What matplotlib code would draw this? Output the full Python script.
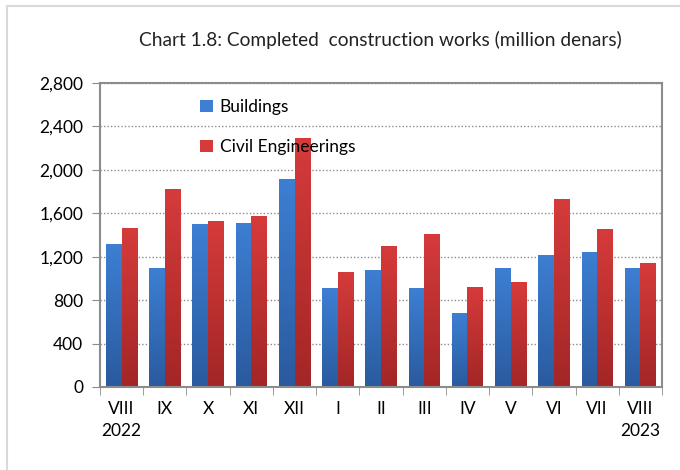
import numpy as np
import matplotlib
matplotlib.use('Agg')
import matplotlib.pyplot as plt
from matplotlib.patches import Rectangle
from matplotlib.colors import LinearSegmentedColormap

months = ['VIII\n2022', 'IX', 'X', 'XI', 'XII', 'I', 'II', 'III', 'IV', 'V', 'VI', 'VII', 'VIII\n2023']
buildings = [1313, 1095, 1498, 1513, 1913, 909, 1080, 909, 678, 1095, 1218, 1248, 1095]
civil = [1467, 1820, 1529, 1575, 2296, 1063, 1298, 1406, 924, 971, 1728, 1452, 1140]

plt.rcParams['font.family'] = ['Lato', 'DejaVu Sans']

fig = plt.figure(figsize=(6.8, 4.7), dpi=100)
ax = fig.add_axes([0.147, 0.1766, 0.8265, 0.6468])

# outer chart border
fig.patches.append(Rectangle((7 / 680, -0.1), 1.2, 1 - 6 / 470 + 0.1, transform=fig.transFigure,
                             fill=False, edgecolor='#d9d9d9', linewidth=1.5))

x = np.arange(len(months))
w = 0.36


def gradient_bars(xs, heights, c_top, c_bot, label):
    bars = ax.bar(xs, heights, w, color=c_top, label=label, zorder=2)
    cmap = LinearSegmentedColormap.from_list('g', [c_bot, c_top])
    grad = np.linspace(0, 1, 256).reshape(-1, 1)
    for b in bars:
        bx, by = b.get_x(), b.get_y()
        bw, bh = b.get_width(), b.get_height()
        im = ax.imshow(grad, extent=[bx, bx + bw, by, by + bh], origin='lower', aspect='auto',
                       cmap=cmap, zorder=2.1)
        im.set_clip_path(b)
    return bars


gradient_bars(x - w / 2, buildings, '#3d7fd3', '#2a5a9e', 'Buildings')
gradient_bars(x + w / 2, civil, '#d63b3b', '#a32626', 'Civil Engineerings')

ax.set_xlim(-0.5, len(months) - 0.5)
ax.set_ylim(0, 2800)
ax.set_yticks(np.arange(0, 2801, 400))
ax.set_yticklabels([f'{v:,}' for v in range(0, 2801, 400)], fontsize=12.5)
ax.set_xticks(x)
ax.set_xticklabels(months, fontsize=12.5, linespacing=1.5)
ax.set_xticks(np.arange(-0.5, len(months), 1), minor=True)
ax.tick_params(axis='x', which='major', length=0, pad=10)
ax.tick_params(axis='x', which='minor', length=6, color='#8c8c8c', direction='out')
ax.tick_params(axis='y', length=6, color='#8c8c8c', direction='out', pad=6)

for v in range(400, 2801, 400):
    ax.axhline(v, color='#8c8c8c', linestyle=(0, (1, 1.5)), linewidth=1, zorder=1)

for s in ax.spines.values():
    s.set_color('#8c8c8c')
    s.set_linewidth(1.5)

leg = ax.legend(loc='upper left', bbox_to_anchor=(0.151, 0.998), frameon=False, fontsize=12.5,
                handlelength=0.7, handleheight=0.7, handletextpad=0.4, labelspacing=1.35)

fig.text(0.56, 0.915, 'Chart 1.8: Completed  construction works (million denars)',
         ha='center', va='center', fontsize=13.8, color='#222222')

fig.savefig('out.png', dpi=100)
